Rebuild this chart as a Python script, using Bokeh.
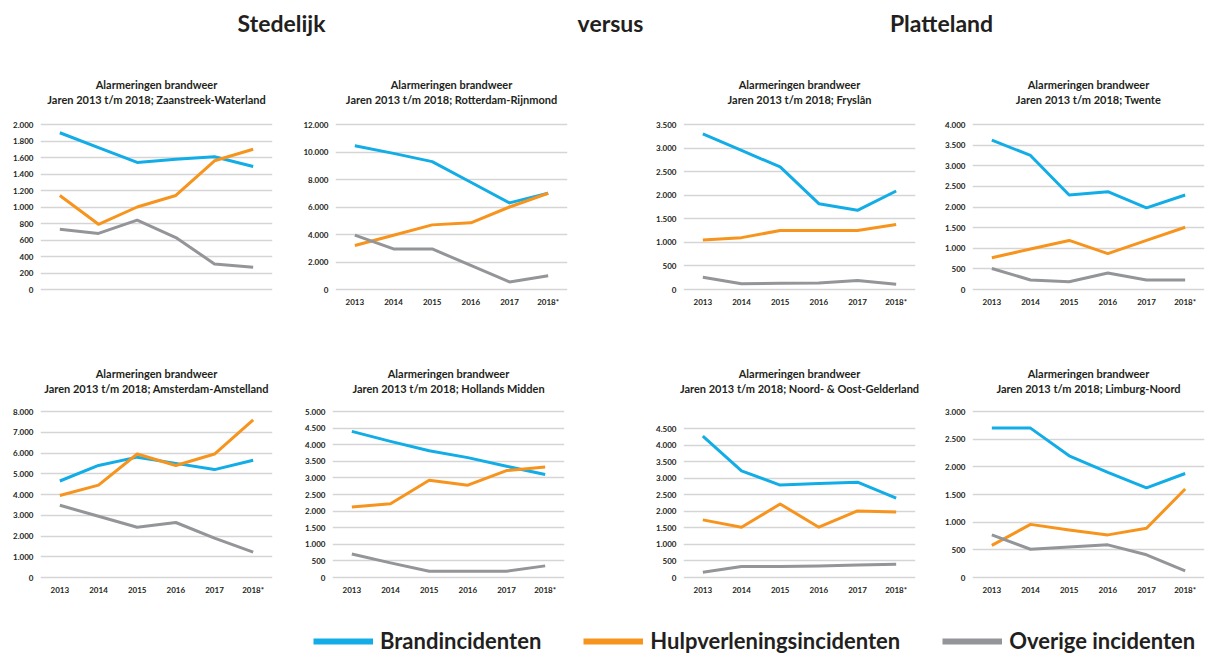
from bokeh.plotting import figure
from bokeh.layouts import column, row
from bokeh.models import FactorRange, Range1d, FixedTicker, Legend, LegendItem, Label
from bokeh.embed import file_html
from bokeh.resources import INLINE

# ---------------- data ----------------
years = ["2013", "2014", "2015", "2016", "2017", "2018*"]
series_names = ["Brandincidenten", "Hulpverleningsincidenten", "Overige incidenten"]
header_words = ["Stedelijk", "versus", "Platteland"]
title_line1 = "Alarmeringen brandweer"
title_prefix = "Jaren 2013 t/m 2018; "
top_regions = ["Zaanstreek-Waterland", "Rotterdam-Rijnmond", "Fryslân", "Twente"]
bottom_regions = ["Amsterdam-Amstelland", "Hollands Midden", "Noord- & Oost-Gelderland",
                  "Limburg-Noord"]

zaanstreek_brand = [1900, 1720, 1540, 1580, 1610, 1490]
zaanstreek_hulp = [1140, 790, 1000, 1140, 1560, 1700]
zaanstreek_overig = [730, 680, 840, 630, 310, 270]

rotterdam_brand = [10450, 9900, 9300, 7800, 6300, 7000]
rotterdam_hulp = [3200, 3950, 4700, 4850, 6000, 7000]
rotterdam_overig = [3950, 2950, 2950, 1750, 550, 1000]

fryslan_brand = [3300, 2950, 2600, 1820, 1680, 2090]
fryslan_hulp = [1050, 1100, 1250, 1250, 1250, 1380]
fryslan_overig = [260, 120, 130, 140, 190, 110]

twente_brand = [3620, 3250, 2290, 2370, 1980, 2290]
twente_hulp = [770, 980, 1190, 870, 1190, 1510]
twente_overig = [510, 230, 190, 400, 230, 230]

amsterdam_brand = [4650, 5400, 5800, 5500, 5200, 5650]
amsterdam_hulp = [3950, 4450, 5950, 5400, 5950, 7600]
amsterdam_overig = [3480, 2950, 2420, 2650, 1900, 1220]

hollands_brand = [4400, 4100, 3820, 3610, 3350, 3100]
hollands_hulp = [2120, 2220, 2930, 2780, 3220, 3330]
hollands_overig = [710, 440, 190, 190, 190, 350]

gelderland_brand = [4270, 3220, 2790, 2840, 2880, 2400]
gelderland_hulp = [1740, 1520, 2220, 1520, 2010, 1980]
gelderland_overig = [160, 330, 330, 350, 380, 400]

limburg_brand = [2700, 2700, 2200, 1900, 1620, 1880]
limburg_hulp = [580, 960, 860, 770, 890, 1600]
limburg_overig = [770, 510, 550, 590, 410, 120]

# ---------------- style ----------------
COLORS = ["#12ADE6", "#F7941D", "#939598"]
TXT = "#231F20"
FONT = "Lato"
TOTAL_W = 1207


def fmt(v):
    return f"{v:,}".replace(",", ".")


def blank(height):
    f = figure(width=TOTAL_W, height=height, x_range=Range1d(0, TOTAL_W),
               y_range=Range1d(0, height), output_backend="svg", toolbar_location=None,
               min_border=0, frame_align=False)
    f.axis.visible = False
    f.grid.visible = False
    f.outline_line_color = None
    return f


def panel(brand, hulp, overig, ymax, ystep, width, mbl, mbr, mbt,
          frame_h, mbb, show_years=True):
    pad_px = 2
    pad = pad_px * ymax / frame_h
    p = figure(width=width, height=mbt + frame_h + mbb,
               x_range=FactorRange(*years), y_range=Range1d(-pad, ymax + pad),
               output_backend="svg", toolbar_location=None, frame_align=False,
               min_border_left=mbl, min_border_right=mbr,
               min_border_top=mbt - pad_px, min_border_bottom=mbb - pad_px)
    p.outline_line_color = None
    p.background_fill_color = None
    p.border_fill_color = None
    p.xgrid.grid_line_color = None
    p.ygrid.grid_line_color = "#D5D5D5"
    p.ygrid.grid_line_width = 1.5
    ticks = list(range(0, ymax + 1, ystep))
    p.yaxis.ticker = FixedTicker(ticks=ticks)
    p.yaxis.major_label_overrides = {t: fmt(t) for t in ticks}
    for ax in (p.xaxis[0], p.yaxis[0]):
        ax.axis_line_color = None
        ax.major_tick_line_color = None
        ax.minor_tick_line_color = None
        ax.major_tick_out = 0
        ax.major_tick_in = 0
        ax.major_label_text_font = FONT
        ax.major_label_text_font_style = "bold"
        ax.major_label_text_font_size = "8px"
        ax.major_label_text_color = TXT
    p.yaxis.major_label_standoff = 7
    p.xaxis.major_label_standoff = 5
    if not show_years:
        p.xaxis.visible = False
    for vals, c in zip((brand, hulp, overig), COLORS):
        p.line(x=years, y=vals, line_color=c, line_width=3, line_join="round")
    return p


def title_strip(height, regions, centers, off1, off2):
    f = blank(height)
    for reg, xc in zip(regions, centers):
        for txt, off in ((title_line1, off1), (title_prefix + reg, off2)):
            f.add_layout(Label(x=xc, y=height - off, text=txt, text_align="center",
                               text_baseline="middle", text_font=FONT,
                               text_font_style="bold", text_font_size="11px",
                               text_color=TXT))
    return f


# top row: strip 62-110, plots 110-330
p1 = panel(zaanstreek_brand, zaanstreek_hulp, zaanstreek_overig,
           2000, 200, 295, 40, 23, 14, 165, 41, show_years=False)
p2 = panel(rotterdam_brand, rotterdam_hulp, rotterdam_overig,
           12000, 2000, 345, 40, 73, 14, 165, 41)
p3 = panel(fryslan_brand, fryslan_hulp, fryslan_overig,
           3500, 500, 290, 43, 15, 14, 165, 41)
p4 = panel(twente_brand, twente_hulp, twente_overig,
           4000, 500, 277, 42, 3, 14, 165, 41)

# bottom row: strip 330-400, plots 400-610
p5 = panel(amsterdam_brand, amsterdam_hulp, amsterdam_overig,
           8000, 1000, 295, 40, 23, 11, 166, 33)
p6 = panel(hollands_brand, hollands_hulp, hollands_overig,
           5000, 500, 345, 37, 76, 11, 166, 33)
p7 = panel(gelderland_brand, gelderland_hulp, gelderland_overig,
           4500, 500, 290, 43, 15, 28, 149, 33)
p8 = panel(limburg_brand, limburg_hulp, limburg_overig,
           3000, 500, 277, 42, 3, 11, 166, 33)

strip_top = title_strip(48, top_regions, [156, 451, 799, 1088], 22, 37)
strip_bottom = title_strip(70, bottom_regions, [156, 448, 799, 1088], 43, 58)

# ---------------- header ----------------
HEAD_H = 62
head = blank(HEAD_H)
for word, xc in zip(header_words, [281, 610, 941]):
    head.add_layout(Label(x=xc, y=HEAD_H - 22, text=word, text_align="center",
                          text_baseline="middle", text_font=FONT, text_font_style="bold",
                          text_font_size="23px", text_color=TXT))

# ---------------- legend ----------------
LEG_H = 45
leg = figure(width=TOTAL_W, height=LEG_H, x_range=Range1d(0, 1), y_range=Range1d(0, 1),
             output_backend="svg", toolbar_location=None, min_border=0, frame_align=False)
leg.axis.visible = False
leg.grid.visible = False
leg.outline_line_color = None
items = []
for name, c in zip(series_names, COLORS):
    r = leg.line(x=[-1, -1], y=[-1, -1], line_color=c, line_width=6)
    items.append(LegendItem(label=name, renderers=[r]))
legend = Legend(items=items, orientation="horizontal", location=(313, 1),
                glyph_width=60, glyph_height=20, label_standoff=7, spacing=42,
                padding=0, margin=0, border_line_color=None, background_fill_alpha=0,
                label_text_font=FONT, label_text_font_style="bold",
                label_text_font_size="22px", label_text_color=TXT)
leg.add_layout(legend, "center")

layout = column(head, strip_top, row(p1, p2, p3, p4), strip_bottom,
                row(p5, p6, p7, p8), leg)

open("out.html", "w").write(file_html(layout, INLINE))
